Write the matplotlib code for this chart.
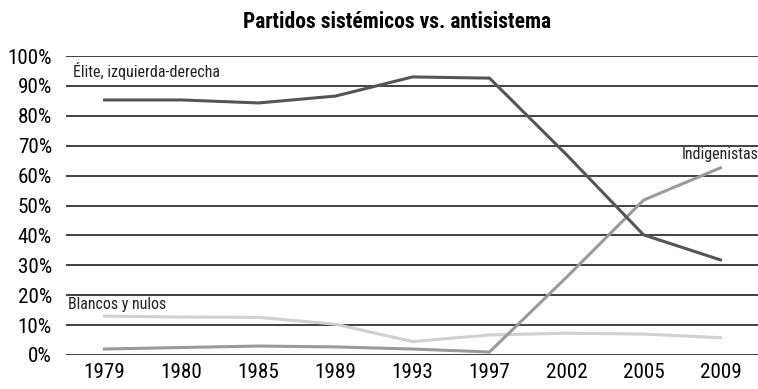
import matplotlib
matplotlib.use("Agg")
import matplotlib.pyplot as plt

years = ["1979", "1980", "1985", "1989", "1993", "1997", "2002", "2005", "2009"]
elite = [85.3, 85.3, 84.3, 86.6, 93.0, 92.6, 67.0, 40.2, 31.8]
indigenistas = [2.0, 2.5, 3.0, 2.7, 2.0, 1.0, 26.0, 51.8, 62.6]
blancos = [13.0, 12.7, 12.6, 10.3, 4.5, 6.7, 7.3, 7.0, 5.8]

plt.rcParams["font.family"] = ["Roboto Condensed", "DejaVu Sans"]

fig = plt.figure(figsize=(7.58, 3.89), dpi=100)
ax = fig.add_axes([66 / 758, 1 - 355 / 389, 693 / 758, 299 / 389])

x = list(range(len(years)))
for v in range(0, 101, 10):
    ax.axhline(v, color="#333333", lw=1.3, zorder=1)

ax.plot(x, indigenistas, color="#9a9a9a", lw=2.2, zorder=3)
ax.plot(x, blancos, color="#d0d0d0", lw=2.2, zorder=2)
ax.plot(x, elite, color="#555555", lw=2.2, zorder=4)

ax.set_xlim(-0.5, len(years) - 0.5)
ax.set_ylim(0, 100)
ax.set_yticks(range(0, 101, 10))
ax.set_yticklabels([f"{v}%" for v in range(0, 101, 10)], fontsize=15.2)
ax.set_xticks(x)
ax.set_xticklabels(years, fontsize=15.2)
ax.tick_params(axis="y", length=0, pad=10)
ax.tick_params(axis="x", length=0, pad=6)
for s in ax.spines.values():
    s.set_visible(False)

ax.text(-0.41, 95, "Élite, izquierda-derecha", fontsize=11.5, ha="left", va="center", color="#222222")
ax.text(-0.48, 16.8, "Blancos y nulos", fontsize=11.5, ha="left", va="center", color="#222222")
ax.text(len(years) - 0.5, 67.2, "Indigenistas", fontsize=11.5, ha="right", va="center", color="#222222")

fig.text(397 / 758, 1 - 22 / 389, "Partidos sistémicos vs. antisistema",
         fontsize=15.5, fontweight="bold", ha="center", va="center")

fig.savefig("out.png", dpi=100)
